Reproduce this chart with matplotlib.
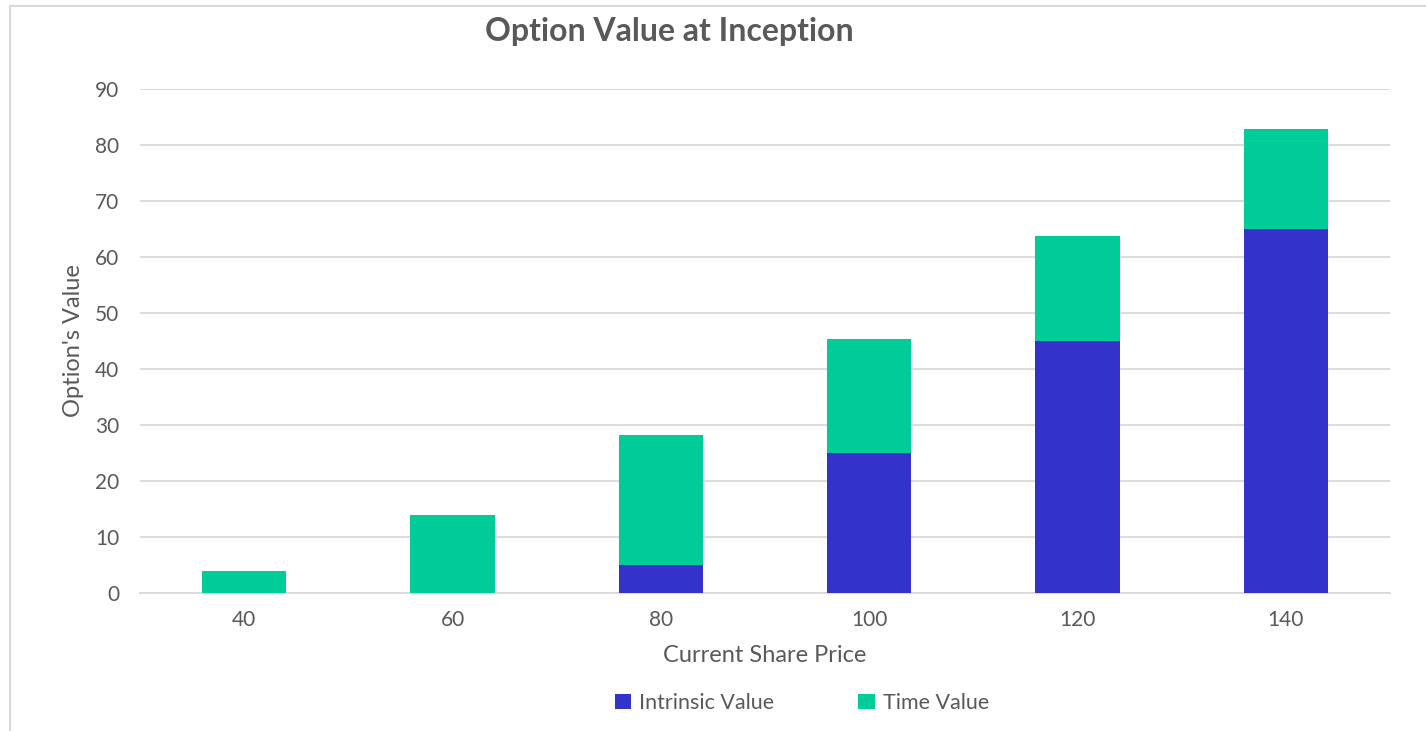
import matplotlib
matplotlib.use("Agg")
import matplotlib.pyplot as plt
from matplotlib.lines import Line2D
from matplotlib.patches import Patch

categories = ["40", "60", "80", "100", "120", "140"]
intrinsic_value = [0, 0, 5, 25, 45, 65]
time_value = [4.0, 13.9, 23.3, 20.3, 18.7, 17.8]
y_ticks = [0, 10, 20, 30, 40, 50, 60, 70, 80, 90]

BLUE = "#3333CC"
GREEN = "#00CC99"
TEXT = "#595959"
GRID = "#D9D9D9"

plt.rcParams['font.family'] = ['Lato', 'DejaVu Sans']

W, H = 1426, 731
fig = plt.figure(figsize=(W / 100, H / 100), dpi=100)
ax = fig.add_axes([140 / W, 1 - 593 / H, 1250 / W, (593 - 89) / H])

x = list(range(len(categories)))
ax.bar(x, intrinsic_value, width=0.405, color=BLUE, zorder=3, label="Intrinsic Value")
ax.bar(x, time_value, width=0.405, bottom=intrinsic_value, color=GREEN, zorder=3, label="Time Value")

ax.set_xlim(-0.5, len(categories) - 0.5)
ax.set_ylim(0, 90)
ax.set_yticks(y_ticks)
ax.set_xticks(x)
ax.set_xticklabels(categories)
ax.yaxis.grid(True, color=GRID, linewidth=1.3, zorder=0)
ax.set_axisbelow(True)
for s in ["top", "right", "left"]:
    ax.spines[s].set_visible(False)
ax.spines["bottom"].set_color(GRID)
ax.spines["bottom"].set_linewidth(1.3)
ax.tick_params(axis="both", length=0, labelsize=15, colors=TEXT)
ax.tick_params(axis="y", pad=15)
ax.tick_params(axis="x", pad=12)

ax.set_xlabel("Current Share Price", fontsize=17, color=TEXT, labelpad=11)
ax.set_ylabel("Option's Value", fontsize=17, color=TEXT, labelpad=8)

fig.text(669 / W, 1 - 31 / H, "Option Value at Inception", ha="center", va="center",
         fontsize=23, fontweight="bold", color=TEXT)

handles = [Patch(facecolor=BLUE, label="Intrinsic Value"),
           Patch(facecolor=GREEN, label="Time Value")]
fig.legend(handles=handles, loc="center", bbox_to_anchor=(802 / W, 1 - 703 / H),
           ncol=2, frameon=False, fontsize=15.5, labelcolor=TEXT,
           handlelength=0.75, handleheight=0.75, handletextpad=0.4, columnspacing=3.9)

# chart-area border (top and left visible)
fig.add_artist(Line2D([10 / W, 1.0], [1 - 6 / H, 1 - 6 / H], color=GRID, linewidth=1.5, transform=fig.transFigure))
fig.add_artist(Line2D([10 / W, 10 / W], [0.0, 1 - 6 / H], color=GRID, linewidth=1.5, transform=fig.transFigure))

fig.savefig("out.png", dpi=100, facecolor="white")
